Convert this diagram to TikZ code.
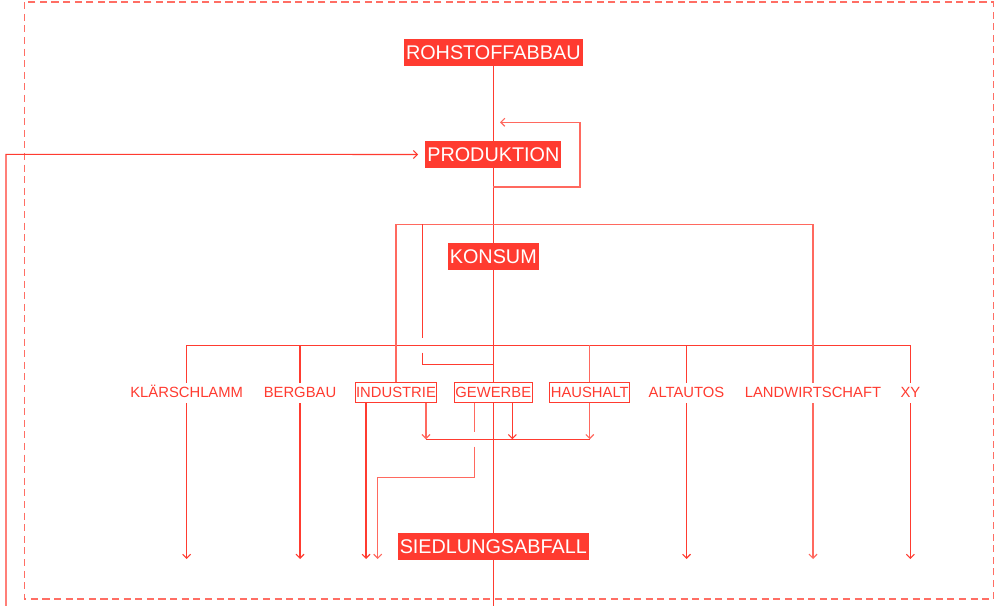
\documentclass[tikz,border=0pt]{standalone}
\usepackage{fontspec}
\setmainfont{Liberation Sans}
\usetikzlibrary{arrows.meta,backgrounds}
\definecolor{rd}{RGB}{255,59,48}
\definecolor{rdl}{RGB}{255,105,95}
\definecolor{rdf}{RGB}{255,110,100}
\begin{document}
\begin{tikzpicture}[x=0.75pt,y=-0.75pt,
 bigbox/.style={fill=rd,text=white,font=\fontsize{14.85pt}{16pt}\selectfont,inner xsep=1.5pt,inner ysep=4.6pt,text height=10.7pt,text depth=0pt},
 smallbox/.style={draw=rd,line width=0.75pt,fill=white,text=rd,font=\fontsize{11.1pt}{13pt}\selectfont,inner xsep=0.8pt,inner ysep=3.5pt,text height=8pt,text depth=0pt},
 smalllabel/.style={smallbox,draw=none},
 ln/.style={draw=rd,line width=0.8pt},
 lnl/.style={draw=rdl,line width=0.9pt},
 frame/.style={draw=rdf,line width=1.1pt,dash pattern=on 5.3pt off 3.4pt},
 tip/.style={-{Straight Barb[length=3pt,width=6pt]}}]
\useasboundingbox (0,0) rectangle (997,606);

% main nodes
\node[bigbox] (roh) at (493.3,52.5) {ROHSTOFFABBAU};
\node[bigbox] (prod) at (493.3,154.5) {PRODUKTION};
\node[bigbox] (kon) at (493.3,256.5) {KONSUM};
\node[bigbox] (sied) at (493.3,546.3) {SIEDLUNGSABFALL};

% source labels
\node[smalllabel] (klaer) at (186.7,392.5) {KLÄRSCHLAMM};
\node[smalllabel] (berg) at (300,392.5) {BERGBAU};
\node[smallbox] (ind) at (396,392.5) {INDUSTRIE};
\node[smallbox] (gew) at (493.3,392.5) {GEWERBE};
\node[smallbox] (haus) at (589.8,392.5) {HAUSHALT};
\node[smalllabel] (alt) at (686.5,392.5) {ALTAUTOS};
\node[smalllabel] (land) at (813,392.5) {LANDWIRTSCHAFT};
\node[smalllabel] (xy) at (910.4,392.5) {XY};

% helper coordinates
\coordinate (bot) at (493.3,606);
\coordinate (lp0) at (6,606);
\coordinate (lp1) at (6,154.3);
\coordinate (fb0) at (493.3,187);
\coordinate (fb1) at (580,187);
\coordinate (fb2) at (580,122.3);
\coordinate (fb3) at (500,122.3);
\coordinate (hl) at (186.7,345.3);
\coordinate (hr) at (910.4,345.3);
\coordinate (rtl) at (396,224.3);
\coordinate (rtr) at (813,224.3);
\coordinate (q0) at (422.3,224.3);
\coordinate (q1) at (422.3,337.7);
\coordinate (q2) at (422.3,352.7);
\coordinate (q3) at (422.3,364.3);
\coordinate (q4) at (493.3,364.3);
\coordinate (ya) at (0,559);
\coordinate (yc) at (0,439.3);
\coordinate (g1) at (474.3,431.7);
\coordinate (g2) at (474.3,446.7);
\coordinate (g3) at (474.3,477.3);
\coordinate (g4) at (377.7,477.3);

\begin{scope}[on background layer]
% dashed frame
\draw[frame] (24.5,2.2) rectangle (993.3,599);
% main spine
\draw[ln] (roh.south) -- (bot);
% feedback loop
\draw[lnl,tip] (fb0) -- (fb1) -- (fb2) -- (fb3);
% return line from left
\draw[ln,tip] (lp0) -- (lp1) -- ([xshift=-5.2pt]prod.west);
% distribution line
\draw[ln] (hl) -- (hr);
\draw[ln,tip] (hl) -- (klaer.center |- ya);
\draw[ln,tip] (berg.center |- hl) -- (berg.center |- ya);
\draw[lnl] (haus.center |- hl) -- (haus.north);
\draw[ln,tip] (alt.center |- hl) -- (alt.center |- ya);
\draw[ln,tip] (hr) -- (xy.center |- ya);
% big bracket from consumption
\draw[lnl] (ind.north) -- (rtl) -- (rtr);
\draw[lnl,tip] (rtr) -- (land.center |- ya);
\draw[ln] (q0) -- (q1);
\draw[ln] (q2) -- (q3) -- (q4);
% outputs of industry / commerce / households
\draw[ln,tip] (ind.south -| 366,0) -- (366,559);
\draw[lnl,tip] (ind.south -| 426,0) -- (426,439.3);
\draw[lnl] (gew.south -| g1) -- (g1);
\draw[lnl,tip] (g2) -- (g3) -- (g4) -- (g4 |- ya);
\draw[ln,tip] (gew.south -| 512.3,0) -- (512.3,439.3);
\draw[lnl,tip] (haus.south) -- (haus.center |- yc);
\draw[ln] (426,439.3) -- (haus.center |- yc);
\end{scope}
\end{tikzpicture}
\end{document}
